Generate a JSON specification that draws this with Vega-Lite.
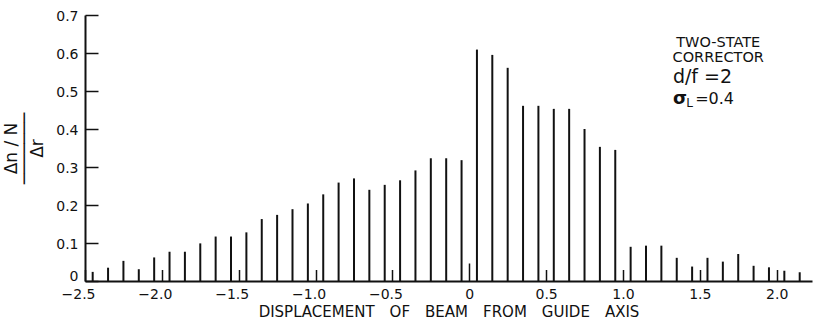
{
  "$schema": "https://vega.github.io/schema/vega-lite/v6.json",
  "width": 727,
  "height": 266,
  "autosize": {"type": "none"},
  "padding": {"left": 85, "top": 15, "right": 2, "bottom": 40},
  "background": "white",
  "config": {
    "view": {"stroke": null},
    "font": "DejaVu Sans",
    "axis": {"grid": false, "labelOverlap": false, "domainColor": "#111", "domainWidth": 2, "tickColor": "#111", "labelColor": "#111", "titleColor": "#111"}
  },
  "resolve": {"axis": {"x": "independent", "y": "independent"}},
  "layer": [
    {
      "data": {"values": [
        {"x": -2.45, "y": 0.024}, {"x": -2.35, "y": 0.035}, {"x": -2.25, "y": 0.053}, {"x": -2.15, "y": 0.031},
        {"x": -2.05, "y": 0.062}, {"x": -1.95, "y": 0.077}, {"x": -1.85, "y": 0.077}, {"x": -1.75, "y": 0.099},
        {"x": -1.65, "y": 0.117}, {"x": -1.55, "y": 0.117}, {"x": -1.45, "y": 0.128}, {"x": -1.35, "y": 0.163},
        {"x": -1.25, "y": 0.174}, {"x": -1.15, "y": 0.189}, {"x": -1.05, "y": 0.204}, {"x": -0.95, "y": 0.228},
        {"x": -0.85, "y": 0.259}, {"x": -0.75, "y": 0.270}, {"x": -0.65, "y": 0.240}, {"x": -0.55, "y": 0.253},
        {"x": -0.45, "y": 0.265}, {"x": -0.35, "y": 0.291}, {"x": -0.25, "y": 0.323}, {"x": -0.15, "y": 0.323},
        {"x": -0.05, "y": 0.318}, {"x": 0.05, "y": 0.609}, {"x": 0.15, "y": 0.595}, {"x": 0.25, "y": 0.561},
        {"x": 0.35, "y": 0.461}, {"x": 0.45, "y": 0.461}, {"x": 0.55, "y": 0.453}, {"x": 0.65, "y": 0.453},
        {"x": 0.75, "y": 0.400}, {"x": 0.85, "y": 0.353}, {"x": 0.95, "y": 0.345}, {"x": 1.05, "y": 0.090},
        {"x": 1.15, "y": 0.093}, {"x": 1.25, "y": 0.093}, {"x": 1.35, "y": 0.061}, {"x": 1.45, "y": 0.038},
        {"x": 1.55, "y": 0.061}, {"x": 1.65, "y": 0.051}, {"x": 1.75, "y": 0.071}, {"x": 1.85, "y": 0.040},
        {"x": 1.95, "y": 0.036}, {"x": 2.05, "y": 0.027}, {"x": 2.15, "y": 0.023}
      ]},
      "mark": {"type": "rule", "strokeWidth": 2, "color": "#111"},
      "encoding": {
        "x": {
          "field": "x", "type": "quantitative",
          "scale": {"domain": [-2.5, 2.23], "nice": false, "zero": false},
          "axis": {
            "values": [-2.5, -2, -1.5, -1, -0.5, 0, 0.5, 1, 1.5, 2],
            "labelExpr": "datum.value === 0 ? '0' : format(datum.value, '.1f')",
            "tickSize": {"condition": {"test": "datum.value === 0", "value": -18}, "value": -11.5},
            "labelPadding": {"condition": {"test": "datum.value === 0", "value": 24.5}, "value": 18},
            "labelOffset": {"condition": {"test": "datum.value < 0", "value": -7}, "value": 0},
            "tickWidth": 1.5,
            "labelFontSize": 14,
            "labelFlush": false,
            "labelOverlap": false,
            "title": "DISPLACEMENT\u2003OF\u2003BEAM\u2003FROM\u2003GUIDE\u2003AXIS",
            "titleFontSize": 15,
            "titleFontWeight": "normal",
            "titlePadding": 3
          }
        },
        "y": {
          "field": "y", "type": "quantitative",
          "scale": {"domain": [0, 0.7], "nice": false},
          "axis": {
            "values": [0, 0.1, 0.2, 0.3, 0.4, 0.5, 0.6, 0.7],
            "tickCount": 8,
            "labelExpr": "datum.value === 0 ? '0' : format(datum.value, '.1f')",
            "labelOffset": {"condition": {"test": "datum.value === 0", "value": -5}, "value": 1},
            "ticks": true,
            "tickSize": -13,
            "tickWidth": 1.5,
            "labelPadding": 20,
            "labelFontSize": 14,
            "labelFlush": false,
            "labelOverlap": false,
            "title": ["Δn / N", "───────", "Δr"],
            "titleFontSize": 17,
            "titleFontWeight": "normal",
            "titleLineHeight": 13,
            "titlePadding": 9
          }
        },
        "y2": {"datum": 0}
      }
    },
    {
      "mark": {"type": "rule", "strokeWidth": 2, "color": "#111"},
      "encoding": {"y": {"datum": 0.7, "axis": null}}
    },
    {
      "data": {"values": [{}]},
      "mark": {"type": "text", "text": "TWO-STATE", "fontSize": 14.5, "align": "center", "baseline": "alphabetic", "color": "#111"},
      "encoding": {"x": {"datum": 1.62, "axis": null}, "y": {"datum": 0.616, "axis": null}}
    },
    {
      "data": {"values": [{}]},
      "mark": {"type": "text", "text": "CORRECTOR", "fontSize": 14.5, "align": "center", "baseline": "alphabetic", "color": "#111"},
      "encoding": {"x": {"datum": 1.62, "axis": null}, "y": {"datum": 0.576, "axis": null}}
    },
    {
      "data": {"values": [{}]},
      "mark": {"type": "text", "text": "d/f =2", "fontSize": 19, "align": "left", "baseline": "alphabetic", "color": "#111"},
      "encoding": {"x": {"datum": 1.325, "axis": null}, "y": {"datum": 0.52, "axis": null}}
    },
    {
      "data": {"values": [{}]},
      "mark": {"type": "text", "text": "σ", "fontSize": 18, "fontWeight": "bold", "align": "left", "baseline": "alphabetic", "color": "#111"},
      "encoding": {"x": {"datum": 1.325, "axis": null}, "y": {"datum": 0.466, "axis": null}}
    },
    {
      "data": {"values": [{}]},
      "mark": {"type": "text", "text": "L", "fontSize": 12, "align": "left", "baseline": "alphabetic", "color": "#111"},
      "encoding": {"x": {"datum": 1.412, "axis": null}, "y": {"datum": 0.457, "axis": null}}
    },
    {
      "data": {"values": [{}]},
      "mark": {"type": "text", "text": "=0.4", "fontSize": 16, "align": "left", "baseline": "alphabetic", "color": "#111"},
      "encoding": {"x": {"datum": 1.47, "axis": null}, "y": {"datum": 0.466, "axis": null}}
    }
  ]
}
